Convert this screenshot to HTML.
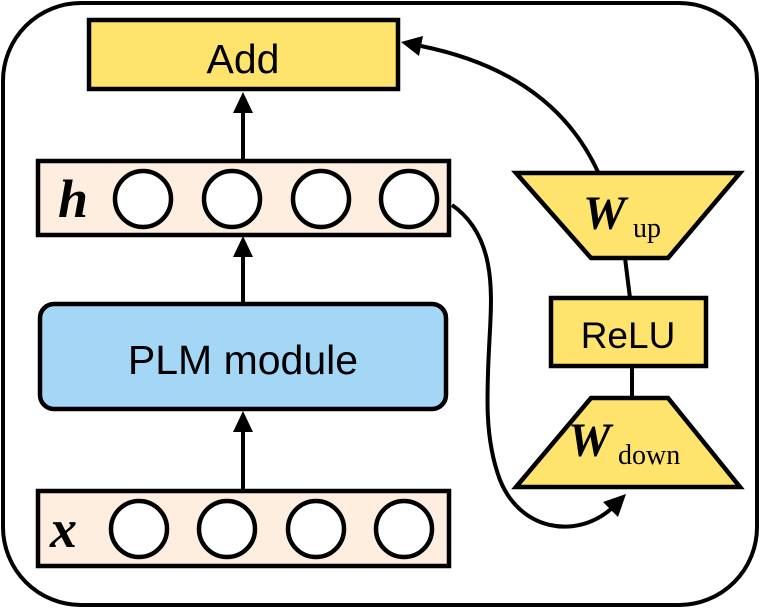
<!DOCTYPE html>
<html><head><style>body{margin:0;background:#fff}svg{display:block}</style></head><body>
<svg width="761" height="609" viewBox="0 0 761 609" xmlns="http://www.w3.org/2000/svg">
<rect x="3" y="3" width="754" height="602" rx="78" fill="none" stroke="#000" stroke-width="4"/>
<rect x="89" y="20" width="309" height="69" fill="#fee46d" stroke="#000" stroke-width="4.5"/>
<text x="243" y="73" font-family="Liberation Sans, sans-serif" font-size="41" text-anchor="middle">Add</text>
<rect x="38" y="161" width="411" height="74" fill="#fdeee0" stroke="#000" stroke-width="4.5"/>
<text x="58" y="217" font-family="Liberation Serif, serif" font-style="italic" font-weight="bold" font-size="54">h</text>
<g fill="#fff" stroke="#000" stroke-width="4.5">
<circle cx="143" cy="199" r="28"/><circle cx="232" cy="199" r="28"/><circle cx="321" cy="199" r="28"/><circle cx="409" cy="199" r="28"/>
</g>
<rect x="40" y="304" width="406" height="105" rx="14" fill="#a3d7f5" stroke="#000" stroke-width="4.5"/>
<text x="243" y="374" font-family="Liberation Sans, sans-serif" font-size="41" text-anchor="middle">PLM module</text>
<rect x="38" y="491" width="411" height="75" fill="#fdeee0" stroke="#000" stroke-width="4.5"/>
<text x="50" y="547" font-family="Liberation Serif, serif" font-style="italic" font-weight="bold" font-size="54">x</text>
<g fill="#fff" stroke="#000" stroke-width="4.5">
<circle cx="139" cy="529" r="28"/><circle cx="227" cy="529" r="28"/><circle cx="316" cy="529" r="28"/><circle cx="404" cy="529" r="28"/>
</g>
<g stroke="#000" stroke-width="4" fill="none">
<line x1="243" y1="161" x2="243" y2="110"/>
<line x1="243" y1="304" x2="243" y2="255"/>
<line x1="243" y1="491" x2="243" y2="430"/>
<path d="M598,172 C565,100 500,62 421,46"/>
<path d="M452,205 C495,235 492,290 490,330 C486,400 485,440 500,480 C520,530 575,540 611,509"/>
<line x1="625" y1="258" x2="630" y2="298"/>
<line x1="632" y1="366" x2="632" y2="398"/>
</g>
<g fill="#000">
<polygon points="243,92 233,113 253,113"/>
<polygon points="243,236 233,257 253,257"/>
<polygon points="243,411 233,432 253,432"/>
<polygon points="401,42 423,36 419,56"/>
<polygon points="626,494 618,517 603,502"/>
</g>
<polygon points="516,173 740,173 668,258 591,258" fill="#fee46d" stroke="#000" stroke-width="4.5"/>
<text x="583" y="229" font-family="Liberation Serif, serif" font-style="italic" font-weight="bold" font-size="48">W</text>
<text x="633" y="237" font-family="Liberation Serif, serif" font-size="28">up</text>
<rect x="551" y="298" width="155" height="68" fill="#fee46d" stroke="#000" stroke-width="4.5"/>
<text x="628" y="348" font-family="Liberation Sans, sans-serif" font-size="37" text-anchor="middle">ReLU</text>
<polygon points="591,398 668,398 740,487 516,487" fill="#fee46d" stroke="#000" stroke-width="4.5"/>
<text x="568" y="456" font-family="Liberation Serif, serif" font-style="italic" font-weight="bold" font-size="48">W</text>
<text x="618" y="464" font-family="Liberation Serif, serif" font-size="28">down</text>
</svg>
</body></html>
